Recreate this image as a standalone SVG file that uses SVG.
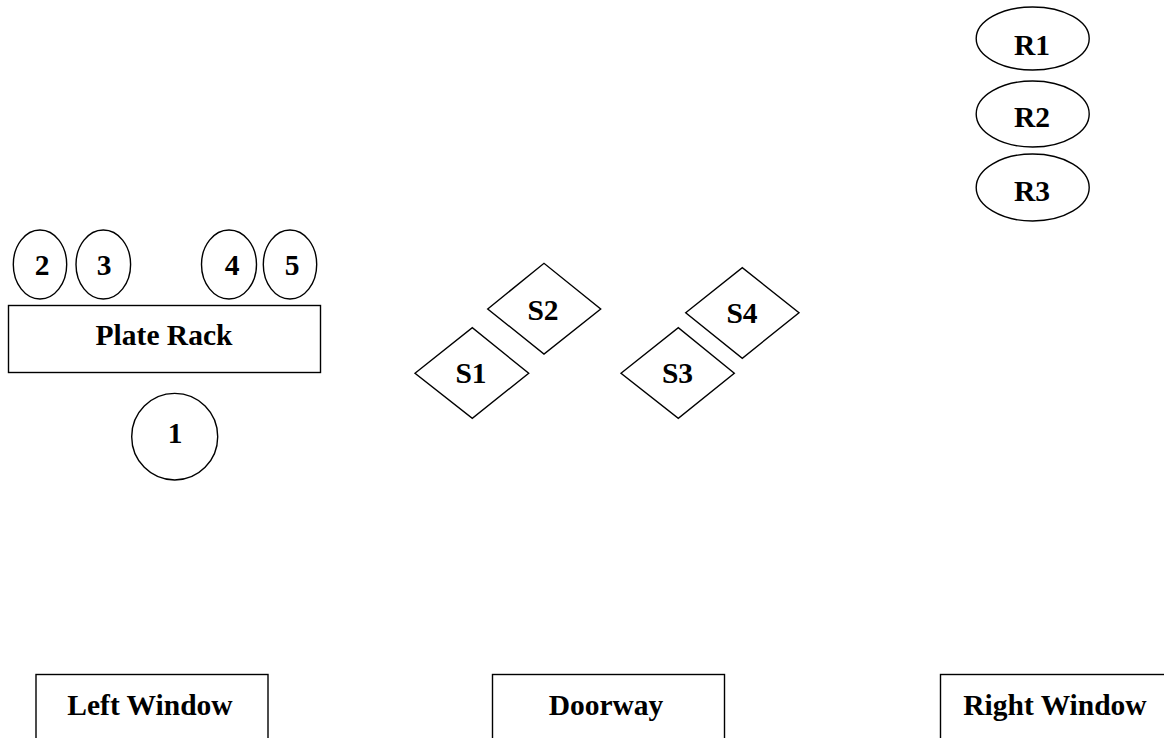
<svg xmlns="http://www.w3.org/2000/svg" width="1164" height="738" viewBox="0 0 1164 738">
<style>
.s{fill:#fff;stroke:#000;stroke-width:1.4}
.t{font-family:"Liberation Serif","Times New Roman",serif;font-weight:bold;font-size:29.5px;fill:#000;text-anchor:middle}
</style>
<rect width="1164" height="738" fill="#fff"/>
<g id="r1"><ellipse class="s" cx="1032.7" cy="38.5" rx="56.5" ry="31.5"/><text class="t" x="1032" y="55">R1</text></g>
<g id="r2"><ellipse class="s" cx="1032.7" cy="114" rx="56.5" ry="33"/><text class="t" x="1032" y="127">R2</text></g>
<g id="r3"><ellipse class="s" cx="1032.7" cy="187.5" rx="56.5" ry="33.5"/><text class="t" x="1032" y="201">R3</text></g>
<g id="c2"><ellipse class="s" cx="40" cy="264.5" rx="26.7" ry="34.5"/><text class="t" x="42" y="275">2</text></g>
<g id="c3"><ellipse class="s" cx="103.3" cy="264.5" rx="27.3" ry="34.5"/><text class="t" x="104" y="275">3</text></g>
<g id="c4"><ellipse class="s" cx="229" cy="264.5" rx="27.5" ry="34.5"/><text class="t" x="232" y="275">4</text></g>
<g id="c5"><ellipse class="s" cx="290" cy="264.5" rx="26.7" ry="34.5"/><text class="t" x="292" y="275">5</text></g>
<g id="plate-rack"><rect class="s" x="8.5" y="305.5" width="312" height="67"/><text class="t" x="164" y="345">Plate Rack</text></g>
<g id="c1"><ellipse class="s" cx="174.7" cy="436.7" rx="43" ry="43.3"/><text class="t" x="175" y="443">1</text></g>
<g id="s1"><polygon class="s" points="415,373.3 472.3,327.7 528.7,373.3 472.3,418.3"/><text class="t" x="471" y="383">S1</text></g>
<g id="s2"><polygon class="s" points="487.7,309 544,263.3 600.7,309 544,354"/><text class="t" x="543" y="320">S2</text></g>
<g id="s3"><polygon class="s" points="621,373.3 678.3,327.7 734.3,373.3 678.3,418.3"/><text class="t" x="677.5" y="383">S3</text></g>
<g id="s4"><polygon class="s" points="685.7,312.7 742.3,267.7 799,312.7 742.3,358.3"/><text class="t" x="742" y="323">S4</text></g>
<g id="left-window"><rect class="s" x="36" y="674.5" width="232" height="100"/><text class="t" x="150" y="715">Left Window</text></g>
<g id="doorway"><rect class="s" x="492.5" y="674.5" width="232" height="100"/><text class="t" x="606" y="715">Doorway</text></g>
<g id="right-window"><rect class="s" x="940.5" y="674.5" width="240" height="100"/><text class="t" x="1055" y="715">Right Window</text></g>
<g id="connectors"/>
</svg>
